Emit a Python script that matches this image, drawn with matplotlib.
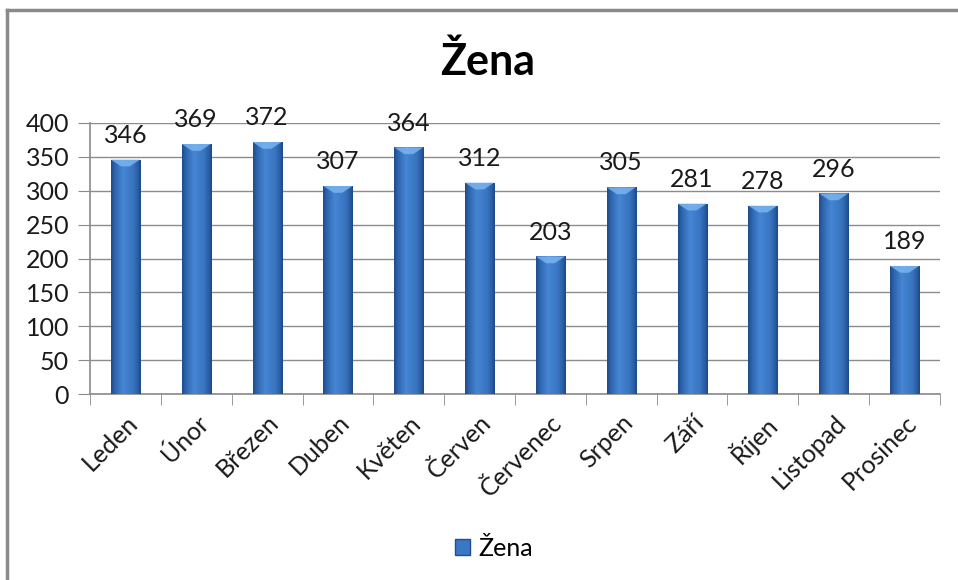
import numpy as np
import matplotlib.pyplot as plt
from matplotlib.patches import Rectangle, Polygon
from matplotlib.lines import Line2D
from matplotlib.colors import LinearSegmentedColormap

# data
months = ["Leden", "Únor", "Březen", "Duben", "Květen", "Červen",
          "Červenec", "Srpen", "Září", "Říjen", "Listopad", "Prosinec"]
values = [346, 369, 372, 307, 364, 312, 203, 305, 281, 278, 296, 189]
series_name = "Žena"

plt.rcParams['font.family'] = ['Lato', 'DejaVu Sans']

fig = plt.figure(figsize=(9.58, 5.80), dpi=100)
ax = fig.add_axes([90/958, 1-394/580, 850/958, 271/580])

# outer chart frame (top + left visible)
fig.add_artist(Line2D([7/958, 1], [1-10/580, 1-10/580], color='#8a8a8a', lw=2.5))
fig.add_artist(Line2D([7/958, 7/958], [0, 1-10/580], color='#8a8a8a', lw=2.5))

# gradient like the excel bars
cmap = LinearSegmentedColormap.from_list("bar", [
    (0.0, '#1d4a88'), (0.12, '#2d63ac'), (0.4, '#4686d4'),
    (0.75, '#3874c0'), (0.92, '#285aa0'), (1.0, '#1c4782')])
grad = np.linspace(0, 1, 256).reshape(1, -1)

x = np.arange(len(months))
w = 0.41
bars = ax.bar(x, values, width=w, color='#3a78c6', zorder=3)
for b, v in zip(bars, values):
    x0 = b.get_x()
    im = ax.imshow(grad, cmap=cmap, aspect='auto', extent=[x0, x0 + w, 0, v],
                   zorder=3.5, interpolation='bicubic')
    im.set_clip_path(b)
    # light bevel at the top
    tri = Polygon([[x0, v], [x0 + w, v], [x0 + w * 0.65, v - 10], [x0 + w * 0.35, v - 10]],
                  closed=True, facecolor='#7ab4f0', edgecolor='none', alpha=0.85, zorder=4)
    ax.add_patch(tri)
    ax.text(b.get_x() + w / 2, v + 19, str(v), ha='center', va='bottom',
            fontsize=18, color='#1a1a1a')

ax.set_xlim(-0.5, len(months) - 0.5)
ax.set_ylim(0, 400)
ax.set_yticks(range(0, 401, 50))
ax.tick_params(axis='y', labelsize=18, length=9, color='#8a8a8a', pad=6, labelcolor='#1a1a1a')
ax.set_xticks(x)
ax.set_xticklabels(months, rotation=45, ha='right', rotation_mode='anchor',
                   fontsize=18, color='#1a1a1a')
ax.tick_params(axis='x', length=0, pad=12)
# ticks between categories
ax.set_xticks(np.arange(-0.5, len(months)), minor=True)
ax.tick_params(axis='x', which='minor', length=8, color='#8a8a8a')

ax.grid(axis='y', color='#8c8c8c', lw=1, zorder=0)
for s in ['top', 'right']:
    ax.spines[s].set_visible(False)
for s in ['left', 'bottom']:
    ax.spines[s].set_color('#8a8a8a')
    ax.spines[s].set_linewidth(1.2)

fig.text(488/958, 1-62/580, series_name, ha='center', va='center',
         fontsize=31, fontweight='bold', color='black')

handle = Rectangle((0, 0), 1, 1, facecolor='#3a78c6', edgecolor='#1f4f8f')
fig.legend([handle], [series_name], loc='center', bbox_to_anchor=(494/958, 1-548/580),
           frameon=False, fontsize=18, handlelength=0.6, handleheight=0.6,
           handletextpad=0.3)

fig.savefig('out.png', dpi=100)
